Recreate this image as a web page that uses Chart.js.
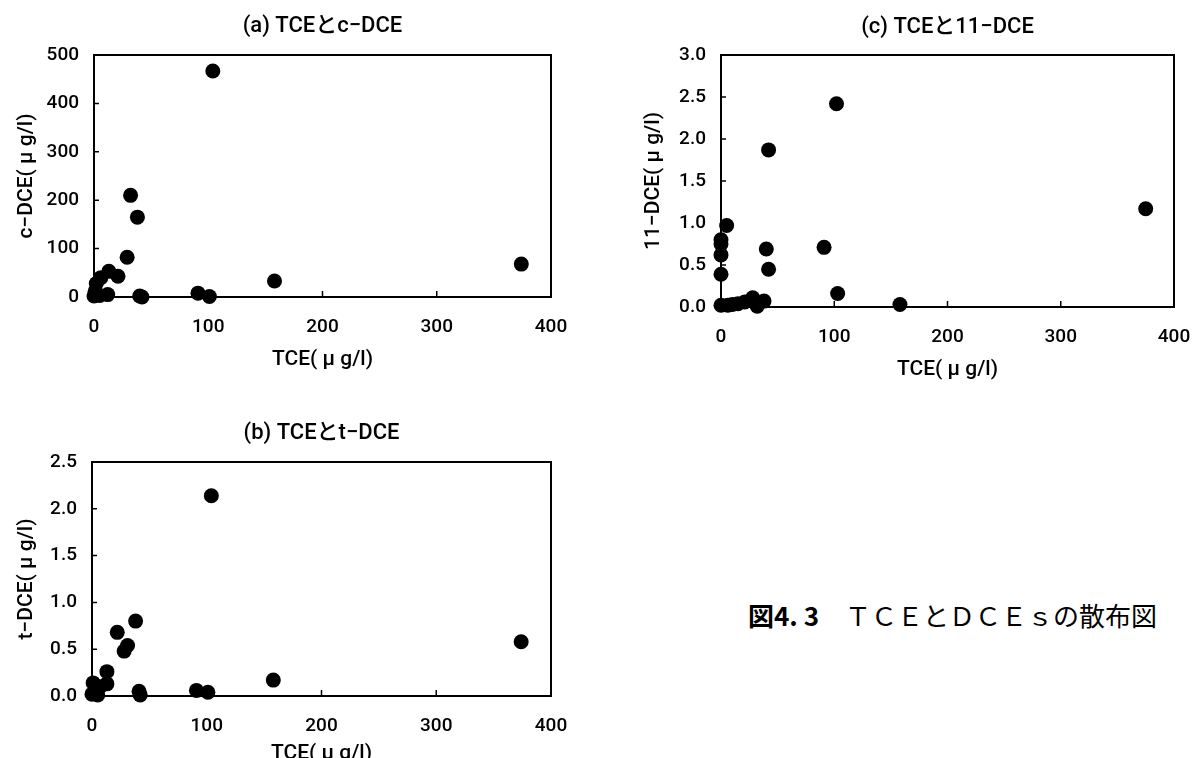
<!DOCTYPE html>
<html lang="ja">
<head>
<meta charset="utf-8">
<script src="https://cdn.jsdelivr.net/npm/chart.js@4.4.1/dist/chart.umd.min.js"></script>
<style>
  html, body { margin: 0; padding: 0; background: #fff; width: 1199px; height: 758px; overflow: hidden; }
  body { position: relative; }
  canvas { position: absolute; }
  #zu { position: absolute; left: 748px; top: 601px; font-family: 'Noto Sans CJK JP', sans-serif; font-size: 26px; line-height: 28px; white-space: nowrap; color: #000; }
  #zu b { font-weight: bold; }
</style>
</head>
<body>
<canvas id="grafico-a" width="644" height="372" style="left:0px; top:0px;"></canvas>
<canvas id="grafico-b" width="643" height="372" style="left:0px; top:405px;"></canvas>
<canvas id="grafico-c" width="695" height="385" style="left:600px; top:0px;"></canvas>
<div id="zu"><b>図4. 3</b>　ＴＣＥとＤＣＥｓの散布図</div>

<script>
// 測定値 (μg/l)
// (a) TCE と c-DCE
const tceA = [0, 1, 2, 5, 6, 12, 13, 21, 29, 32, 38, 40, 42, 91, 101, 104, 158, 374];
const cDce = [2, 12, 28, 3, 40, 5, 53, 43, 82, 210, 165, 2, 0, 8, 1, 467, 33, 68];

// (b) TCE と t-DCE
const tceB = [0, 1, 3, 5, 7, 13, 13, 22, 28, 31, 38, 41, 42, 91, 101, 104, 158, 374];
const tDce = [0.02, 0.14, 0.05, 0.01, 0.10, 0.13, 0.26, 0.68, 0.48, 0.54, 0.80, 0.05, 0.01, 0.06, 0.04, 2.14, 0.17, 0.58];

// (c) TCE と 11-DCE
const tceC = [0, 0, 0, 0, 0, 5, 6, 10, 15, 21, 28, 32, 38, 40, 42, 42, 91, 102, 103, 158, 375];
const dce11 = [0.02, 0.39, 0.62, 0.75, 0.80, 0.97, 0.02, 0.03, 0.04, 0.06, 0.11, 0.01, 0.07, 0.69, 0.45, 1.87, 0.71, 2.42, 0.16, 0.03, 1.17];

// 軸の目盛り
const xTicks = [0, 100, 200, 300, 400];
const yTicksA = [0, 100, 200, 300, 400, 500];
const yTicksB = [0, 0.5, 1.0, 1.5, 2.0, 2.5];
const yTicksC = [0, 0.5, 1.0, 1.5, 2.0, 2.5, 3.0];

const FONTE = "Roboto, 'Liberation Sans', 'Noto Sans CJK JP', sans-serif";

// 枠線と内向きの目盛り線、プロット領域の上に中央揃えのタイトル
const molduraPlugin = {
  id: 'moldura',
  beforeDatasetsDraw(chart, args, opts) {
    const { ctx, chartArea: area, scales } = chart;
    ctx.save();
    ctx.strokeStyle = '#000';
    ctx.lineWidth = 2;
    ctx.strokeRect(area.left, area.top, area.right - area.left, area.bottom - area.top);

    ctx.lineWidth = 1.5;
    ctx.beginPath();
    scales.x.ticks.forEach(t => {
      const px = scales.x.getPixelForValue(t.value);
      ctx.moveTo(px, area.bottom);
      ctx.lineTo(px, area.bottom - 6);
    });
    scales.y.ticks.forEach(t => {
      const py = scales.y.getPixelForValue(t.value);
      ctx.moveTo(area.left, py);
      ctx.lineTo(area.left + 5, py);
    });
    ctx.stroke();

    ctx.fillStyle = '#000';
    ctx.font = '500 22px ' + FONTE;
    ctx.textAlign = 'center';
    ctx.textBaseline = 'middle';
    ctx.fillText(opts.texto, (area.left + area.right) / 2, opts.y);
    ctx.restore();
  }
};

function criaGrafico(id, xs, ys, cfg) {
  const pontos = xs.map((x, i) => ({ x: x, y: ys[i] }));

  return new Chart(document.getElementById(id), {
    type: 'scatter',
    data: {
      datasets: [{
        data: pontos,
        backgroundColor: '#000',
        borderWidth: 0,
        pointRadius: 7.5,
        pointHoverRadius: 7.5,
        clip: false
      }]
    },
    options: {
      responsive: false,
      animation: false,
      events: [],
      layout: { padding: { left: 0, right: cfg.padDireita, top: cfg.padTopo, bottom: 0 } },
      plugins: {
        legend: { display: false },
        tooltip: { enabled: false },
        title: { display: false },
        moldura: { texto: cfg.titulo, y: cfg.tituloY }
      },
      scales: {
        x: {
          type: 'linear',
          min: 0,
          max: 400,
          afterFit: s => { s.height = cfg.alturaX; },
          afterBuildTicks: s => { s.ticks = xTicks.map(v => ({ value: v })); },
          grid: { display: false, drawTicks: false },
          border: { display: false },
          ticks: { color: '#000', font: { family: FONTE, size: 19, weight: 500 }, padding: 19, maxRotation: 0 },
          title: {
            display: true,
            text: 'TCE( μ g/l)',
            color: '#000',
            font: { family: FONTE, size: 21, weight: 500 },
            padding: { top: 0, bottom: cfg.tituloXBaixo }
          }
        },
        y: {
          type: 'linear',
          min: 0,
          max: cfg.yTicks[cfg.yTicks.length - 1],
          afterFit: s => { s.width = cfg.larguraY; },
          afterBuildTicks: s => { s.ticks = cfg.yTicks.map(v => ({ value: v })); },
          grid: { display: false, drawTicks: false },
          border: { display: false },
          ticks: {
            color: '#000',
            font: { family: FONTE, size: 19, weight: 500 },
            padding: 15,
            callback: v => cfg.decimais ? v.toFixed(1) : String(v)
          },
          title: {
            display: true,
            text: cfg.rotuloY,
            color: '#000',
            font: { family: FONTE, size: 21, weight: 500 },
            padding: { top: cfg.rotuloYTopo, bottom: 0 }
          }
        }
      }
    },
    plugins: [molduraPlugin]
  });
}

criaGrafico('grafico-a', tceA, cDce, {
  titulo: '(a) TCEとc−DCE',
  tituloY: 26,
  rotuloY: 'c−DCE( μ g/l)',
  yTicks: yTicksA,
  decimais: false,
  padDireita: 93,
  padTopo: 55,
  larguraY: 94,
  alturaX: 75,
  tituloXBaixo: 0,
  rotuloYTopo: 14
});

criaGrafico('grafico-b', tceB, tDce, {
  titulo: '(b) TCEとt−DCE',
  tituloY: 28,
  rotuloY: 't−DCE( μ g/l)',
  yTicks: yTicksB,
  decimais: true,
  padDireita: 92,
  padTopo: 57,
  larguraY: 92,
  alturaX: 81,
  tituloXBaixo: 11,
  rotuloYTopo: 14
});

criaGrafico('grafico-c', tceC, dce11, {
  titulo: '(c) TCEと11−DCE',
  tituloY: 27,
  rotuloY: '11−DCE( μ g/l)',
  yTicks: yTicksC,
  decimais: true,
  padDireita: 121,
  padTopo: 55,
  larguraY: 121,
  alturaX: 78,
  tituloXBaixo: 3,
  rotuloYTopo: 41
});
</script>
</body>
</html>
